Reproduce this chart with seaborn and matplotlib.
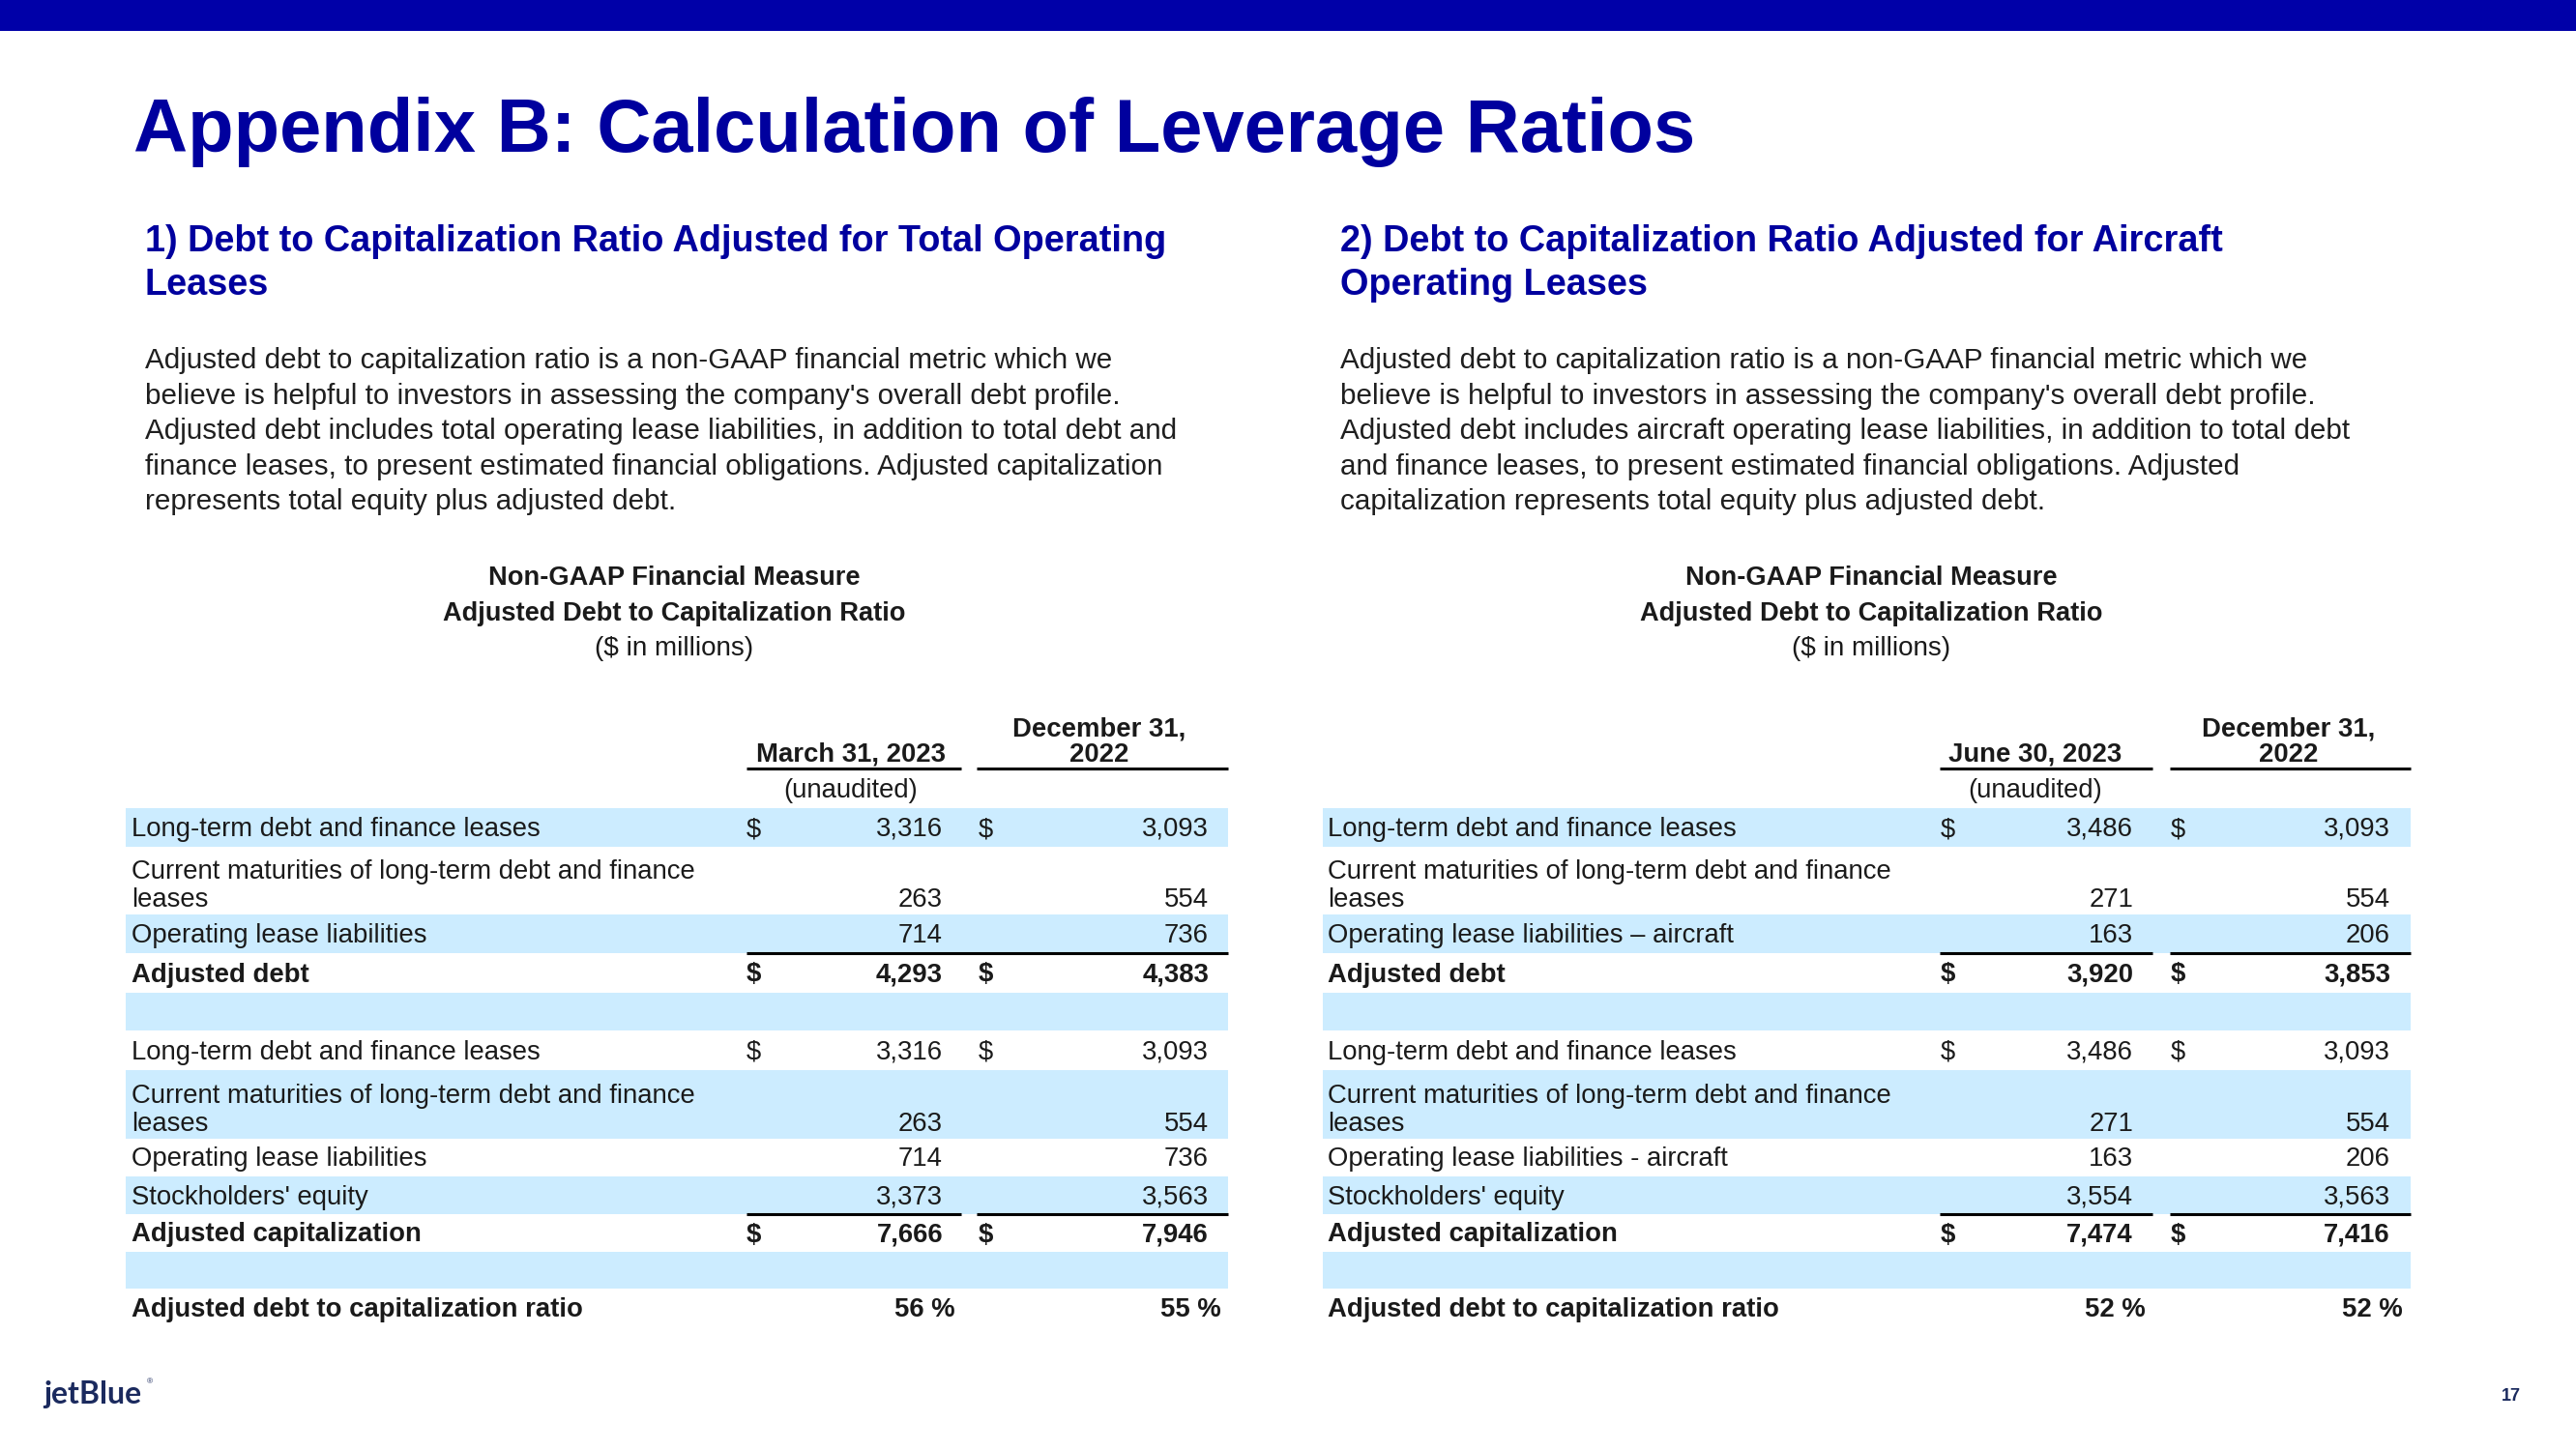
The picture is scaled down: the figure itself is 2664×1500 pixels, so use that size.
import matplotlib
matplotlib.use("Agg")

import matplotlib.pyplot as plt
from matplotlib.patches import Rectangle
import seaborn as sns

# ---- colours ----
BAR_BLUE = "#0000A8"
TITLE_BLUE = "#00009E"
BAND = "#CCECFF"
TEXT = "#1A1A1A"
BODY = "#1F1F1F"
LOGO = "#1B2A5E"

# ---- data ----
labels_left = [
    "Long-term debt and finance leases",
    "Current maturities of long-term debt and finance\nleases",
    "Operating lease liabilities",
    "Adjusted debt",
    "",
    "Long-term debt and finance leases",
    "Current maturities of long-term debt and finance\nleases",
    "Operating lease liabilities",
    "Stockholders' equity",
    "Adjusted capitalization",
    "",
    "Adjusted debt to capitalization ratio",
]
labels_right = [
    "Long-term debt and finance leases",
    "Current maturities of long-term debt and finance\nleases",
    "Operating lease liabilities \u2013 aircraft",
    "Adjusted debt",
    "",
    "Long-term debt and finance leases",
    "Current maturities of long-term debt and finance\nleases",
    "Operating lease liabilities - aircraft",
    "Stockholders' equity",
    "Adjusted capitalization",
    "",
    "Adjusted debt to capitalization ratio",
]
mar_2023 = [3316, 263, 714, 4293, None, 3316, 263, 714, 3373, 7666, None, 56]
dec_2022_left = [3093, 554, 736, 4383, None, 3093, 554, 736, 3563, 7946, None, 55]
jun_2023 = [3486, 271, 163, 3920, None, 3486, 271, 163, 3554, 7474, None, 52]
dec_2022_right = [3093, 554, 206, 3853, None, 3093, 554, 206, 3563, 7416, None, 52]

dollar_rows = [0, 3, 5, 9]
bold_rows = [3, 9, 11]
shaded_rows = [0, 2, 4, 6, 8, 10]
underline_after = [2, 8]
pct_row = 11

headings_left = ["1) Debt to Capitalization Ratio Adjusted for Total Operating", "Leases"]
headings_right = ["2) Debt to Capitalization Ratio Adjusted for Aircraft", "Operating Leases"]
body_left = [
    "Adjusted debt to capitalization ratio is a non-GAAP financial metric which we",
    "believe is helpful to investors in assessing the company's overall debt profile.",
    "Adjusted debt includes total operating lease liabilities, in addition to total debt and",
    "finance leases, to present estimated financial obligations. Adjusted capitalization",
    "represents total equity plus adjusted debt.",
]
body_right = [
    "Adjusted debt to capitalization ratio is a non-GAAP financial metric which we",
    "believe is helpful to investors in assessing the company's overall debt profile.",
    "Adjusted debt includes aircraft operating lease liabilities, in addition to total debt",
    "and finance leases, to present estimated financial obligations. Adjusted",
    "capitalization represents total equity plus adjusted debt.",
]
block_head = ["Non-GAAP Financial Measure", "Adjusted Debt to Capitalization Ratio", "($ in millions)"]

# ---- layout (pixel space) ----
row_heights = [40, 70, 40, 41, 39, 41, 71, 39, 39, 39, 38, 39]
TABLE_TOP = 836

left_cols = dict(x0=130, x1=1270, label=136, d1=772, n1=975, d2=1012, n2=1250,
                 ul1=(772, 994), ul2=(1010, 1270), h1=880, h2=1137, hx=697, tx=150)
right_cols = dict(x0=1368, x1=2493, label=1373, d1=2007, n1=2206, d2=2245, n2=2472,
                  ul1=(2006, 2226), ul2=(2244, 2493), h1=2105, h2=2367, hx=1935, tx=1386)

sns.set_theme(style="white")
plt.rcParams["font.family"] = ["Liberation Sans", "DejaVu Sans"]

fig = plt.figure(figsize=(26.64, 15), dpi=100)
ax = fig.add_axes([0, 0, 1, 1])
ax.set_xlim(0, 2664)
ax.set_ylim(1500, 0)
ax.axis("off")

# top bar and title
ax.add_patch(Rectangle((0, 0), 2664, 32, color=BAR_BLUE, lw=0))
ax.text(138, 157, "Appendix B: Calculation of Leverage Ratios", fontsize=56,
        fontweight="bold", color=TITLE_BLUE, va="baseline")

FS = 19.8


def draw_side(c, headings, body, labels, cur, prior, cur_head, continuous_debt_line):
    # section heading + description
    for i, line in enumerate(headings):
        ax.text(c["tx"], 260 + 45 * i, line, fontsize=27.3, fontweight="bold",
                color=TITLE_BLUE, va="baseline")
    for i, line in enumerate(body):
        ax.text(c["tx"], 381 + 36.6 * i, line, fontsize=21.3, color=BODY, va="baseline")
    for i, line in enumerate(block_head):
        ax.text(c["hx"], 605 + 36.5 * i, line, fontsize=19.6 if i < 2 else 20,
                fontweight="bold" if i < 2 else "normal", color=TEXT,
                va="baseline", ha="center")

    # column headers
    ax.text(c["h1"], 787, cur_head, fontsize=FS, fontweight="bold", color=TEXT,
            ha="center", va="baseline")
    ax.text(c["h2"], 761, "December 31,", fontsize=FS, fontweight="bold", color=TEXT,
            ha="center", va="baseline")
    ax.text(c["h2"], 788, "2022", fontsize=FS, fontweight="bold", color=TEXT,
            ha="center", va="baseline")
    ax.text(c["h1"], 825, "(unaudited)", fontsize=FS, color=TEXT, ha="center", va="baseline")
    for a, b in (c["ul1"], c["ul2"]):
        ax.plot([a, b], [795, 795], color="black", lw=2.2, solid_capstyle="butt")

    # rows
    y = TABLE_TOP
    for i, h in enumerate(row_heights):
        if i in shaded_rows:
            ax.add_patch(Rectangle((c["x0"], y), c["x1"] - c["x0"], h, color=BAND, lw=0))
        weight = "bold" if i in bold_rows else "normal"
        if "\n" in labels[i]:
            l1, l2 = labels[i].split("\n")
            base = y + h - 8
            ax.text(c["label"], base - 29, l1, fontsize=FS, color=TEXT, va="baseline")
            ax.text(c["label"], base, l2, fontsize=FS, color=TEXT, va="baseline")
        else:
            base = y + h / 2 + 9
            ax.text(c["label"], base, labels[i], fontsize=FS, color=TEXT,
                    fontweight=weight, va="baseline")
        if cur[i] is not None:
            if i == pct_row:
                ax.text(c["n1"] + 13, base, f"{cur[i]} %", fontsize=FS, fontweight=weight,
                        color=TEXT, ha="right", va="baseline")
                ax.text(c["n2"] + 13, base, f"{prior[i]} %", fontsize=FS, fontweight=weight,
                        color=TEXT, ha="right", va="baseline")
            else:
                ax.text(c["n1"], base, f"{cur[i]:,}", fontsize=FS, fontweight=weight,
                        color=TEXT, ha="right", va="baseline")
                ax.text(c["n2"], base, f"{prior[i]:,}", fontsize=FS, fontweight=weight,
                        color=TEXT, ha="right", va="baseline")
            if i in dollar_rows:
                ax.text(c["d1"], base, "$", fontsize=FS, fontweight=weight, color=TEXT,
                        va="baseline")
                ax.text(c["d2"], base, "$", fontsize=FS, fontweight=weight, color=TEXT,
                        va="baseline")
        y += h
        if i in underline_after:
            if i == 2 and continuous_debt_line:
                ax.plot([c["ul1"][0], c["ul2"][1]], [y, y], color="black", lw=2.2,
                        solid_capstyle="butt", zorder=3)
            else:
                for a, b in (c["ul1"], c["ul2"]):
                    ax.plot([a, b], [y, y], color="black", lw=2.2,
                            solid_capstyle="butt", zorder=3)


draw_side(left_cols, headings_left, body_left, labels_left, mar_2023, dec_2022_left,
          "March 31, 2023", True)
draw_side(right_cols, headings_right, body_right, labels_right, jun_2023, dec_2022_right,
          "June 30, 2023", False)

# footer
ax.text(45, 1452, "jetBlue", fontsize=23, fontweight="bold", color=LOGO,
        va="baseline", family=["Lato", "DejaVu Sans"])
ax.text(152, 1431, "\u00ae", fontsize=6, color=LOGO, va="baseline")
ax.text(2597, 1449, "17", fontsize=13, fontweight="bold", color=LOGO,
        ha="center", va="baseline")

fig.savefig("out.png", dpi=100, facecolor="white")
plt.close(fig)
